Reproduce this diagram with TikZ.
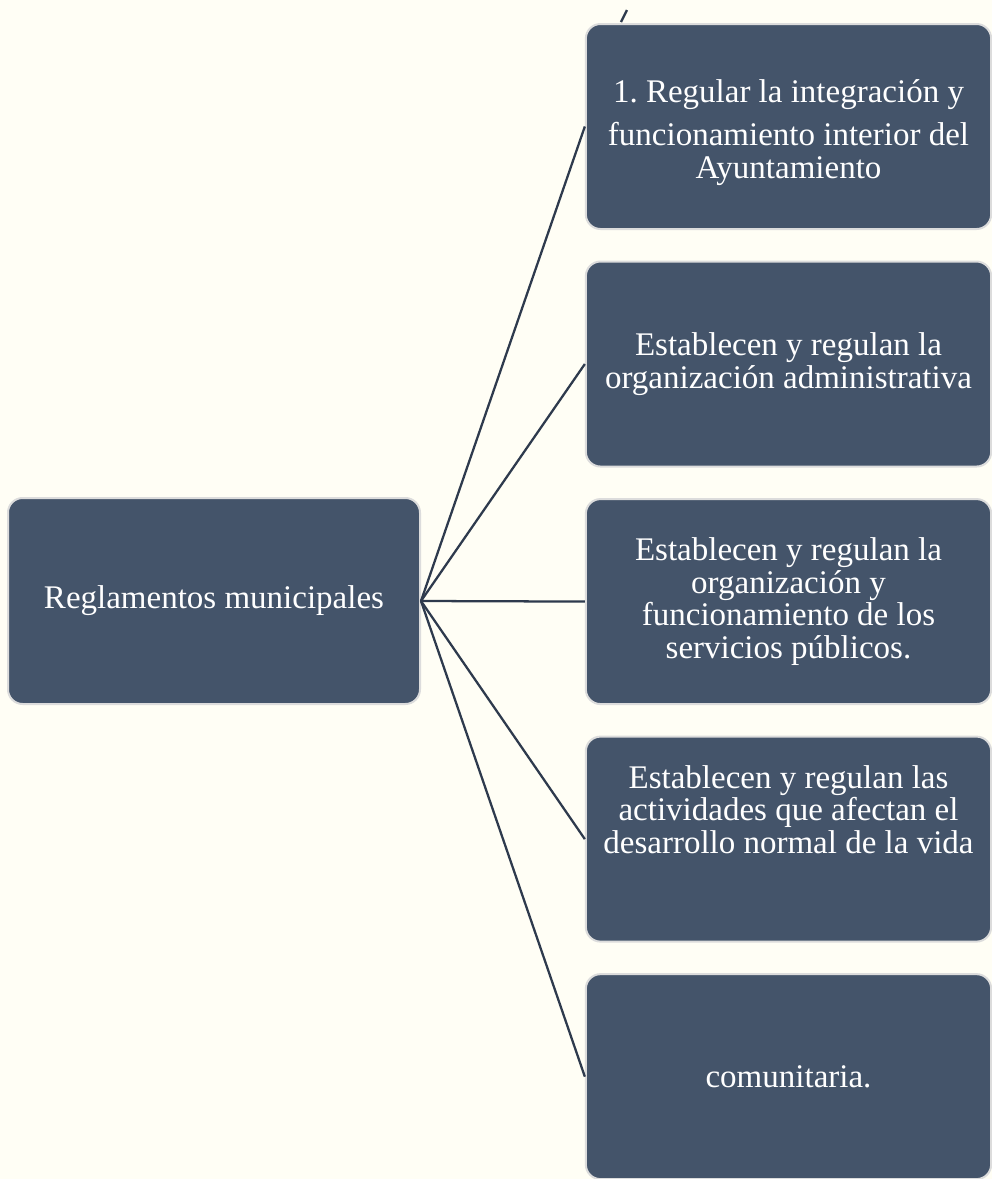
\documentclass[tikz,border=0pt]{standalone}
\usepackage{fontspec}
\setmainfont{Liberation Serif}
\usetikzlibrary{positioning}
\definecolor{Cream}{HTML}{FFFEF5}
\definecolor{Slate}{HTML}{44546A}
\definecolor{Rim}{HTML}{DCDCDC}
\definecolor{Ink}{HTML}{2E3A4D}

\begin{document}
\frenchspacing
\begin{tikzpicture}[x=0.75pt, y=-0.75pt, node distance=22.9pt,
    box/.style={fill=Slate, draw=Rim, line width=1.5pt, rounded corners=11pt, text=white, align=center, inner sep=0pt, font=\fontsize{24.75pt}{24.6pt}\selectfont},
    leaf/.style={box, minimum width=304pt, minimum height=153.75pt},
    link/.style={draw=Ink, line width=1.7pt}]
    \path[use as bounding box, fill=Cream] (0,0) rectangle (992,1179);

    \node[box, minimum width=309pt, minimum height=154.5pt] (m) at (214,601) {Reglamentos municipales};

    \node[leaf] (a) at (788.5,126.5) {\rule{0pt}{26pt}1. Regular la integración y\\[8pt]funcionamiento interior del\\Ayuntamiento};
    \node[leaf, below=of a] (b) {Establecen y regulan la\\organización administrativa};
    \node[leaf, below=of b] (c) {Establecen y regulan la\\organización y\\funcionamiento de los\\servicios públicos.};
    \node[leaf, below=of c] (d) {Establecen y regulan las\\actividades que afectan el\\desarrollo normal de la vida\\[20pt]\mbox{}};
    \node[leaf, below=of d] (e) {comunitaria.};

    \draw[link] (m.east) -- (a.west);
    \draw[link] (m.east) -- (b.west);
    \draw[link] (m.east) -- (c.west);
    \draw[link] (m.east) -- (d.west);
    \draw[link] (m.east) -- (e.west);

    % stray stroke above the first box
    \coordinate (s1) at (621,22);
    \coordinate (s2) at (627,10);
    \draw[link] (s1) -- (s2);
  \end{tikzpicture}
\end{document}
